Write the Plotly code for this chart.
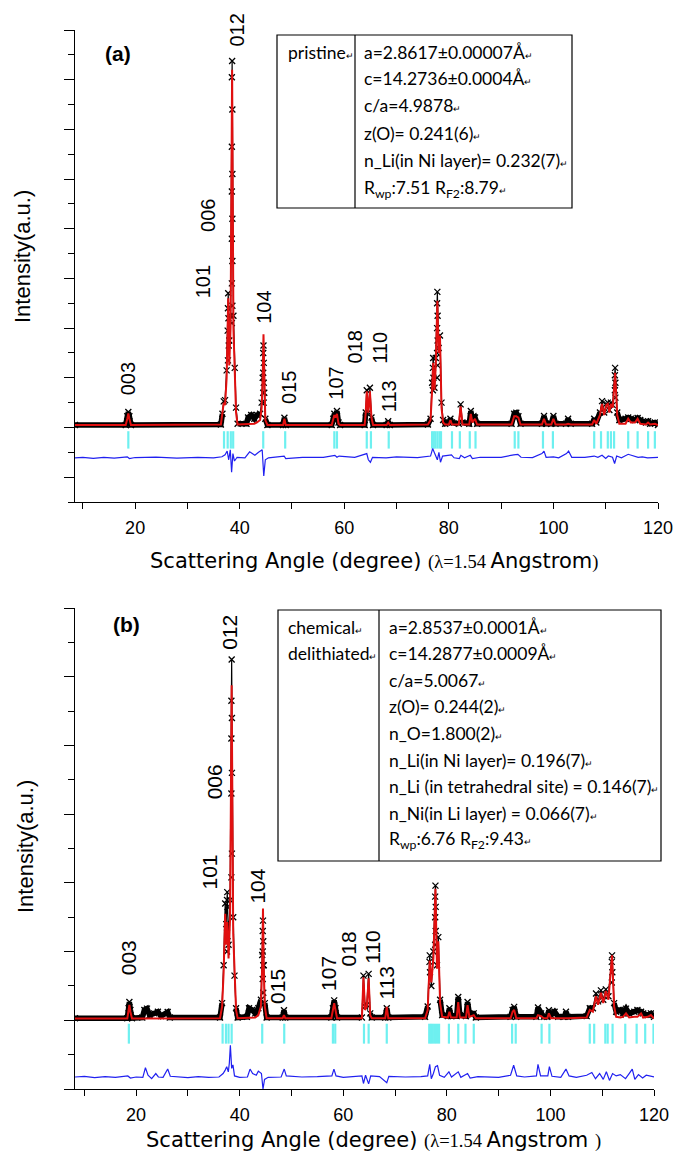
import plotly.graph_objects as go

W, H = 675, 1153          # reference picture size (all positions below are read in these pixels)
FIG_W = 690               # page width used by the figure so that it fills the photographed window

# ---------------- Panel (a) : pristine ----------------
a_x = [8.5, 18.2, 18.5, 18.7, 18.9, 19.2, 36.4, 36.7, 36.95, 37.2, 37.5, 37.8, 38.0, 38.25, 38.55, 38.8,
       39.05, 39.3, 39.6, 41.3, 41.6, 42.2, 42.8, 43.3, 43.9, 44.2, 44.4, 44.55, 44.7, 44.9, 45.3,
       48.3, 48.55, 48.8, 57.6, 57.9, 58.1, 58.3, 58.6, 58.9, 59.2, 63.9, 64.1, 64.3, 64.6, 64.9, 65.2,
       65.5, 68.1, 68.4, 68.7, 76.0, 76.5, 76.8, 77.0, 77.25, 77.5, 77.8, 78.05, 78.3, 78.6, 78.9, 79.3,
       80.0, 80.3, 80.6, 81.9, 82.25, 82.6, 83.9, 84.2, 84.5, 85.0, 85.4, 92.0, 92.5, 92.9, 93.3, 93.7,
       97.8, 98.2, 98.6, 99.6, 100.0, 100.4, 102.4, 102.8, 103.3, 107.4, 107.8, 108.2, 108.9, 109.3,
       109.7, 110.1, 110.4, 110.7, 111.0, 111.35, 111.8, 112.2, 112.6, 113.8, 114.3, 114.8, 115.6,
       116.1, 116.6, 117.7, 118.1, 118.5, 119.4, 120.0]
a_calc = [0.1, 0.1, 0.35, 0.56, 0.35, 0.1, 0.12, 0.5, 1.0, 0.9, 2.0, 5.2, 2.5, 4.0, 14.4, 4.0,
          2.2, 0.6, 0.12, 0.12, 0.15, 0.15, 0.15, 0.2, 0.3, 0.8, 2.0, 3.75, 1.5, 0.3, 0.1,
          0.1, 0.35, 0.1, 0.1, 0.3, 0.5, 0.4, 0.55, 0.15, 0.1, 0.1, 0.6, 1.46, 0.6, 1.46, 0.4,
          0.1, 0.1, 0.2, 0.1, 0.12, 0.3, 1.5, 2.6, 1.5, 2.5, 5.1, 3.0, 3.7, 0.8, 0.2, 0.12,
          0.12, 0.3, 0.12, 0.12, 0.85, 0.12, 0.12, 0.55, 0.2, 0.35, 0.12, 0.12, 0.45, 0.45, 0.4, 0.12,
          0.12, 0.35, 0.12, 0.12, 0.35, 0.12, 0.12, 0.15, 0.12, 0.12, 0.3, 0.15, 0.5, 0.95,
          0.5, 0.9, 0.95, 0.6, 0.95, 0.8, 2.2, 0.5, 0.15, 0.15, 0.35, 0.2, 0.2,
          0.35, 0.15, 0.12, 0.2, 0.12, 0.15, 0.1]
a_obs = [0.1, 0.1, 0.45, 0.62, 0.45, 0.1, 0.12, 0.55, 1.05, 1.1, 2.3, 5.4, 3.5, 4.5, 14.75, 4.5,
         2.4, 0.8, 0.15, 0.15, 0.4, 0.5, 0.35, 0.5, 0.55, 1.0, 2.0, 3.3, 1.4, 0.35, 0.1,
         0.1, 0.39, 0.1, 0.1, 0.35, 0.55, 0.45, 0.66, 0.2, 0.1, 0.1, 0.6, 1.5, 0.6, 1.6, 0.4,
         0.1, 0.1, 0.25, 0.1, 0.12, 0.35, 1.8, 2.8, 1.6, 2.8, 5.46, 3.2, 3.7, 1.0, 0.3, 0.15,
         0.2, 0.35, 0.2, 0.15, 0.93, 0.2, 0.15, 0.66, 0.3, 0.4, 0.15, 0.15, 0.55, 0.59, 0.45, 0.15,
         0.15, 0.46, 0.15, 0.15, 0.46, 0.15, 0.15, 0.35, 0.15, 0.15, 0.35, 0.2, 0.6, 1.06,
         0.6, 0.95, 1.0, 0.7, 1.0, 0.9, 2.4, 0.6, 0.3, 0.35, 0.4, 0.35, 0.3,
         0.38, 0.3, 0.2, 0.25, 0.15, 0.2, 0.1]
# extra observed points seen along the flanks of the strong peaks
a_pts_x = [38.5, 38.6, 38.5, 38.6, 38.5, 38.6, 38.5, 38.6, 38.5, 38.6, 38.5,
           37.75, 37.85, 37.7, 37.9, 37.75,
           44.5, 44.6, 44.5, 44.6, 44.5, 44.6,
           77.75, 77.85, 77.75, 77.85, 77.75, 77.85, 77.75, 76.95, 77.05, 76.95,
           111.75, 111.85, 111.75, 111.85]
a_pts_y = [14.1, 12.8, 11.3, 10.2, 9.5, 8.4, 7.6, 6.7, 5.8, 4.9, 4.2,
           4.8, 4.4, 3.9, 3.3, 2.7,
           3.0, 2.6, 2.2, 1.8, 1.4, 1.0,
           5.0, 4.5, 4.0, 3.5, 3.0, 2.5, 2.0, 2.4, 2.0, 1.5,
           2.1, 1.8, 1.5, 1.2]
a_bragg = [18.7, 37.0, 37.7, 38.3, 38.75, 44.5, 48.7, 58.1, 58.6, 64.3, 65.1, 68.5,
           76.8, 77.1, 77.4, 77.8, 78.2, 78.5, 80.6, 82.1, 84.0, 85.1, 92.6, 93.3, 98.0, 99.9,
           107.8, 109.1, 110.4, 111.0, 111.6, 114.3, 116.1, 118.1, 119.4]
a_diff_x = [8.5, 10, 12, 14, 16, 18.5, 18.9, 20, 24, 28, 32, 35, 36.6, 37.2, 37.6, 37.9, 38.2, 38.45,
            38.7, 39.0, 39.5, 41.0, 41.9, 42.4, 42.9, 43.6, 44.3, 44.6, 44.9, 45.5, 48.5, 48.8, 52, 56,
            57.5, 58.2, 58.6, 59, 62, 63.8, 64.3, 64.6, 65.0, 65.4, 68, 70, 74, 76.5, 76.9, 77.3, 77.8,
            78.1, 78.4, 78.8, 80.5, 81, 82.0, 82.3, 83, 84.1, 84.5, 86, 90, 92.4, 93.2, 93.8, 96, 97.8,
            98.2, 98.6, 100, 101, 102.5, 102.9, 103.5, 106, 107.8, 108.5, 109.3, 110, 110.5, 111.3,
            111.7, 112.1, 113, 114.3, 115, 116.2, 117, 118, 120]
a_diff_y = [-1.22, -1.2, -1.24, -1.2, -1.23, -1.18, -1.25, -1.21, -1.19, -1.23, -1.2, -1.22, -1.18,
            -1.1, -0.95, -1.3, -0.9, -1.8, -1.05, -1.35, -1.2, -1.22, -0.98, -1.05, -1.12, -1.0, -0.9,
            -1.95, -1.3, -1.22, -1.15, -1.25, -1.2, -1.2, -1.16, -1.12, -1.2, -1.15, -1.2, -1.1, -1.05,
            -1.3, -1.4, -1.2, -1.22, -1.18, -1.21, -1.15, -0.85, -1.05, -1.3, -1.0, -1.4, -1.15, -1.1,
            -1.22, -1.25, -1.12, -1.22, -1.12, -1.25, -1.2, -1.2, -1.1, -1.08, -1.2, -1.21, -1.05,
            -0.95, -1.2, -1.18, -1.22, -1.05, -0.95, -1.2, -1.2, -1.15, -1.2, -1.12, -1.25, -1.15,
            -1.2, -1.45, -1.15, -1.22, -1.08, -1.12, -1.2, -1.18, -1.22, -1.2]

# ---------------- Panel (b) : chemically delithiated ----------------
b_x = [8.2, 18.3, 18.55, 18.7, 18.9, 19.2, 21.2, 21.6, 22.1, 22.6, 23.5, 24.2, 24.8, 26.1, 26.5,
       36.2, 36.6, 36.9, 37.2, 37.4, 37.6, 37.85, 38.15, 38.45, 38.75, 39.0, 39.3, 39.6, 41.4, 41.8,
       42.4, 43.0, 43.6, 44.1, 44.35, 44.5, 44.65, 44.85, 45.2, 48.3, 48.55, 48.8, 57.7, 58.0, 58.25,
       58.5, 58.8, 63.6, 63.9, 64.2, 64.55, 64.9, 65.2, 65.5, 68.1, 68.4, 68.7, 75.8, 76.3, 76.7,
       77.0, 77.4, 77.8, 78.1, 78.35, 78.7, 79.1, 80.2, 80.5, 80.8, 81.9, 82.2, 82.5, 83.7, 84.0,
       84.35, 85.2, 85.6, 92.3, 92.7, 93.0, 93.4, 97.3, 97.6, 98.2, 98.7, 99.4, 99.7, 100.1, 100.8,
       101.5, 102.7, 103.0, 103.4, 107.0, 107.6, 108.2, 108.8, 109.2, 109.75, 110.2, 110.7, 111.2,
       111.9, 112.3, 112.7, 113.5, 114.0, 114.6, 115.2, 116.2, 116.8, 117.5, 117.9, 118.8, 119.4, 120.0]
b_calc = [0.05, 0.05, 0.3, 0.45, 0.25, 0.05, 0.05, 0.05, 0.05, 0.05, 0.05, 0.05, 0.05, 0.05, 0.05,
          0.06, 0.4, 1.4, 3.1, 2.2, 2.86, 1.8, 3.0, 9.75, 2.5, 1.2, 0.3, 0.06, 0.06, 0.06,
          0.06, 0.08, 0.15, 0.4, 1.6, 3.25, 1.5, 0.4, 0.06, 0.06, 0.15, 0.06, 0.06, 0.3, 0.5,
          0.3, 0.06, 0.06, 1.25, 0.3, 0.4, 1.22, 0.15, 0.06, 0.06, 0.39, 0.06, 0.06, 0.3, 1.74,
          1.1, 1.8, 3.83, 1.5, 2.3, 0.5, 0.1, 0.08, 0.25, 0.08, 0.08, 0.53, 0.08, 0.08, 0.44,
          0.1, 0.15, 0.06, 0.06, 0.25, 0.3, 0.06, 0.06, 0.15, 0.12, 0.06, 0.06, 0.2, 0.06, 0.06,
          0.06, 0.06, 0.05, 0.06, 0.08, 0.3, 0.25, 0.7, 0.45, 0.8, 0.5, 0.85, 0.6,
          1.89, 0.4, 0.1, 0.08, 0.1, 0.2, 0.08, 0.1, 0.1, 0.2, 0.08, 0.1, 0.15, 0.05]
b_obs = [0.06, 0.06, 0.35, 0.53, 0.3, 0.06, 0.08, 0.3, 0.34, 0.15, 0.2, 0.25, 0.12, 0.24, 0.08,
         0.08, 0.5, 1.6, 3.4, 2.8, 3.73, 2.2, 3.5, 10.5, 3.0, 1.3, 0.35, 0.08, 0.1, 0.35,
         0.3, 0.2, 0.35, 0.6, 1.9, 2.9, 1.6, 0.5, 0.08, 0.08, 0.29, 0.08, 0.08, 0.35, 0.58,
         0.35, 0.08, 0.08, 1.3, 0.4, 0.45, 1.35, 0.2, 0.08, 0.08, 0.35, 0.08, 0.1, 0.4, 1.89,
         1.0, 2.0, 3.92, 1.6, 2.42, 0.6, 0.15, 0.12, 0.35, 0.12, 0.12, 0.68, 0.15, 0.12, 0.53,
         0.2, 0.2, 0.08, 0.1, 0.3, 0.39, 0.1, 0.1, 0.37, 0.2, 0.1, 0.1, 0.29, 0.15, 0.25,
         0.1, 0.1, 0.25, 0.1, 0.12, 0.35, 0.35, 0.78, 0.55, 0.87, 0.6, 0.9, 0.7,
         1.89, 0.5, 0.25, 0.3, 0.2, 0.34, 0.2, 0.25, 0.3, 0.25, 0.2, 0.15, 0.2, 0.1]
b_pts_x = [38.4, 38.5, 38.4, 38.5, 38.4, 38.5, 38.4,
           37.55, 37.65, 37.55, 37.65, 37.55,
           44.45, 44.55, 44.45, 44.55, 44.45, 44.55,
           77.75, 77.85, 77.75, 77.85, 77.75, 76.65, 76.75,
           111.85, 111.95, 111.85]
b_pts_y = [9.3, 8.8, 8.2, 7.2, 6.6, 4.85, 4.16,
           3.5, 3.3, 2.7, 2.3, 2.0,
           2.6, 2.3, 2.0, 1.6, 1.2, 0.8,
           3.6, 3.3, 3.0, 2.6, 2.2, 1.7, 1.4,
           1.7, 1.4, 1.1]
b_bragg = [18.6, 36.7, 37.35, 37.85, 38.45, 44.35, 48.6, 58.0, 58.45, 64.0, 64.9, 68.4,
           76.6, 76.95, 77.3, 77.7, 78.1, 78.5, 80.4, 82.2, 83.6, 85.2, 92.6, 93.3, 98.3, 99.8,
           107.6, 108.45, 110.6, 111.05, 112.0, 114.45, 116.65, 118.3, 119.9]
b_diff_x = [8.2, 10, 12, 14, 16, 18.4, 18.9, 20, 21.3, 21.8, 22.3, 23.0, 23.8, 24.3, 25.2, 26.1, 26.6,
            28, 30, 32, 34, 36, 36.8, 37.2, 37.5, 37.8, 38.0, 38.2, 38.45, 38.7, 39.0, 40.0, 41.5,
            42.0, 42.5, 43.2, 43.6, 44.2, 44.5, 44.8, 45.5, 48.0, 48.6, 49.0, 52, 55, 57.8, 58.2,
            58.6, 60, 62, 63.6, 63.9, 64.3, 64.9, 65.3, 67, 68.4, 68.8, 72, 75, 76.3, 76.7, 77.0,
            77.4, 77.8, 78.2, 78.6, 79.5, 80.4, 80.9, 82.2, 82.7, 84.0, 84.5, 86, 90, 92.3, 92.9,
            93.5, 95, 97.3, 97.6, 98.1, 99.5, 99.8, 100.3, 102.0, 103.0, 103.6, 105, 107, 108.0,
            108.7, 109.5, 110.2, 110.8, 111.4, 112.0, 112.7, 113.5, 114.5, 115.2, 115.8, 116.3,
            117.0, 117.8, 118.5, 120]
b_diff_y = [-1.65, -1.63, -1.67, -1.64, -1.66, -1.62, -1.68, -1.65, -1.66, -1.38, -1.6, -1.7, -1.55,
            -1.65, -1.66, -1.42, -1.63, -1.65, -1.67, -1.64, -1.66, -1.65, -1.55, -1.45, -1.35, -1.5,
            -1.25, -0.73, -1.4, -1.3, -1.62, -1.66, -1.65, -1.42, -1.55, -1.6, -1.48, -1.55, -2.0,
            -1.72, -1.66, -1.65, -1.42, -1.62, -1.65, -1.64, -1.62, -1.42, -1.62, -1.66, -1.63, -1.62,
            -1.84, -1.6, -1.85, -1.62, -1.64, -1.82, -1.63, -1.65, -1.64, -1.62, -1.28, -1.7, -1.55,
            -1.35, -1.32, -1.6, -1.66, -1.5, -1.65, -1.5, -1.66, -1.55, -1.68, -1.64, -1.66, -1.6,
            -1.31, -1.62, -1.65, -1.62, -1.28, -1.62, -1.62, -1.35, -1.63, -1.66, -1.42, -1.62, -1.66,
            -1.6, -1.52, -1.7, -1.55, -1.72, -1.5, -1.75, -1.55, -1.62, -1.58, -1.7, -1.55, -1.42,
            -1.72, -1.58, -1.68, -1.6, -1.65]

hkl = ["003", "101", "006", "012", "104", "015", "107", "018", "110", "113"]
a_lab_x = [18.7, 33.0, 33.9, 39.4, 44.6, 49.3, 58.4, 62.0, 66.8, 68.7]
a_lab_y = [1.95, 5.85, 8.55, 16.0, 4.85, 1.6, 1.8, 3.25, 3.2, 1.25]
b_lab_x = [18.6, 34.2, 35.2, 37.9, 43.4, 47.4, 57.0, 61.1, 65.6, 68.3]
b_lab_y = [1.83, 4.32, 6.95, 11.3, 3.9, 0.97, 1.37, 2.09, 2.12, 1.08]

table_a_left = ["pristine"]
table_a_right = ["a=2.8617±0.00007Å", "c=14.2736±0.0004Å", "c/a=4.9878", "z(O)= 0.241(6)",
                 "n_Li(in Ni layer)= 0.232(7)", "R<sub>wp</sub>:7.51 R<sub>F2</sub>:8.79"]
table_b_left = ["chemical", "delithiated"]
table_b_right = ["a=2.8537±0.0001Å", "c=14.2877±0.0009Å", "c/a=5.0067", "z(O)= 0.244(2)",
                 "n_O=1.800(2)", "n_Li(in Ni layer)= 0.196(7)", "n_Li (in tetrahedral site) = 0.146(7)",
                 "n_Ni(in Li layer) = 0.066(7)", "R<sub>wp</sub>:6.76 R<sub>F2</sub>:9.43"]

RED = "#E01010"
BLUE = "#2020F0"
CYAN = "#6EF0F0"
ARIAL = "Liberation Sans, Arial, sans-serif"
WIDE = "DejaVu Sans, sans-serif"
BAND_MAX = 0.7


def px(x):
    return x / W


def py(y):
    return 1 - y / H


fig = go.Figure()


def add_panel(xs, calc, obs, px_, py_, bragg, dx, dy, xa, ya, tick_lo, tick_hi):
    bx, by = [], []
    for p in bragg:
        bx += [p, p, None]
        by += [tick_lo, tick_hi, None]
    common = dict(xaxis=xa, yaxis=ya, hoverinfo="skip")
    fig.add_trace(go.Scatter(x=bx, y=by, mode="lines", line=dict(color=CYAN, width=2.2), **common))
    fig.add_trace(go.Scatter(x=dx, y=dy, mode="lines", line=dict(color=BLUE, width=1.2), **common))
    band = [v if v <= BAND_MAX else None for v in obs]
    fig.add_trace(go.Scatter(x=xs, y=band, mode="lines", connectgaps=False,
                             line=dict(color="black", width=5.5), **common))
    fig.add_trace(go.Scatter(x=xs, y=obs, mode="lines", line=dict(color="black", width=1.2), **common))
    mk = dict(symbol="x-thin", size=6, line=dict(color="black", width=1.3))
    fig.add_trace(go.Scatter(x=xs, y=obs, mode="markers", marker=mk, **common))
    fig.add_trace(go.Scatter(x=px_, y=py_, mode="markers", marker=mk, **common))
    fig.add_trace(go.Scatter(x=xs, y=calc, mode="lines", line=dict(color=RED, width=2), **common))


add_panel(a_x, a_calc, a_obs, a_pts_x, a_pts_y, a_bragg, a_diff_x, a_diff_y, "x", "y", -0.15, -0.85)
add_panel(b_x, b_calc, b_obs, b_pts_x, b_pts_y, b_bragg, b_diff_x, b_diff_y, "x2", "y2", -0.1, -0.68)

xax = dict(showline=True, linecolor="black", linewidth=1.3, showgrid=False, zeroline=False,
           ticks="outside", ticklen=6, tickwidth=1.3, tickcolor="black", dtick=20, tick0=0,
           minor=dict(dtick=10, ticks="outside", ticklen=6, tickwidth=1.3, tickcolor="black", showgrid=False),
           tickfont=dict(family=ARIAL, size=18, color="black"), ticklabelstandoff=3)
yax = dict(showline=True, linecolor="black", linewidth=1.3, showgrid=False, zeroline=False,
           ticks="outside", ticklen=10, tickwidth=1.3, tickcolor="black", dtick=2, tick0=0,
           minor=dict(dtick=1, ticks="outside", ticklen=6, tickwidth=1.3, tickcolor="black", showgrid=False),
           showticklabels=False)

fig.update_layout(
    width=FIG_W, height=H, autosize=False, margin=dict(l=0, r=0, t=0, b=0),
    paper_bgcolor="white", plot_bgcolor="white", showlegend=False,
    xaxis=dict(xax, domain=[px(75), px(658)], range=[8.5, 120], anchor="y"),
    yaxis=dict(yax, domain=[py(502), py(30)], range=[-3, 16], anchor="x"),
    xaxis2=dict(xax, domain=[px(75), px(654)], range=[8.2, 120], anchor="y2"),
    yaxis2=dict(yax, domain=[py(1089), py(608)], range=[-2, 12], anchor="x2"),
)

ann = []
C = dict(xanchor="center", yanchor="middle", showarrow=False)
for t, lx, ly in zip(hkl, a_lab_x, a_lab_y):
    ann.append(dict(x=lx, y=ly, xref="x", yref="y", text=t, textangle=-90,
                    font=dict(family=ARIAL, size=20, color="black"), **C))
for t, lx, ly in zip(hkl, b_lab_x, b_lab_y):
    ann.append(dict(x=lx, y=ly, xref="x2", yref="y2", text=t, textangle=-90,
                    font=dict(family=ARIAL, size=21, color="black"), **C))

ann.append(dict(x=px(118), y=py(53), xref="paper", yref="paper", text="<b>(a)</b>",
                font=dict(family=ARIAL, size=21, color="black"), **C))
ann.append(dict(x=px(126), y=py(624), xref="paper", yref="paper", text="<b>(b)</b>",
                font=dict(family=ARIAL, size=21, color="black"), **C))
for xx, yy in ((22, 257), (25, 847)):
    ann.append(dict(x=px(xx), y=py(yy), xref="paper", yref="paper", text="Intensity(a.u.)", textangle=-90,
                    font=dict(family=ARIAL, size=22, color="black"), **C))

serif = "font-family:Liberation Serif;font-size:18.5px"
xt_a = ("Scattering Angle (degree) <span style='%s'>(λ=1.54 </span>Angstrom<span style='%s'>)</span>"
        % (serif, serif))
xt_b = ("Scattering Angle (degree) <span style='%s'>(λ=1.54 </span>Angstrom <span style='%s'>)</span>"
        % (serif, serif))
ann.append(dict(x=px(374), y=py(561), xref="paper", yref="paper", text=xt_a,
                font=dict(family=WIDE, size=21, color="black"), **C))
ann.append(dict(x=px(373), y=py(1140), xref="paper", yref="paper", text=xt_b,
                font=dict(family=WIDE, size=21, color="black"), **C))

RET = "<span style='font-size:9px'>↵</span>"
TF = dict(family="Lato, sans-serif", size=17.5, color="black")
shapes = []


def add_table(x0, x1, xd, y0, y1, left, right, rows_y, left_x, right_x):
    shapes.append(dict(type="rect", xref="paper", yref="paper", x0=px(x0), x1=px(x1), y0=py(y1), y1=py(y0),
                       line=dict(color="black", width=1.2), fillcolor="white", layer="above"))
    shapes.append(dict(type="line", xref="paper", yref="paper", x0=px(xd), x1=px(xd), y0=py(y1), y1=py(y0),
                       line=dict(color="black", width=1.2), layer="above"))
    for i, t in enumerate(left):
        ann.append(dict(x=px(left_x), y=py(rows_y[i]), xref="paper", yref="paper", text=t + RET,
                        xanchor="left", yanchor="middle", showarrow=False, font=TF))
    for i, t in enumerate(right):
        ann.append(dict(x=px(right_x), y=py(rows_y[i]), xref="paper", yref="paper", text=t + RET,
                        xanchor="left", yanchor="middle", showarrow=False, font=TF))


rows_a = [52, 79, 106, 133, 160, 189]
rows_b = [627, 653, 680, 706, 733, 760, 786, 813, 840]
add_table(277, 572, 355, 35, 208, table_a_left, table_a_right, rows_a, 286, 362)
add_table(278, 661, 379, 610, 861, table_b_left, table_b_right, rows_b, 286, 387)

fig.update_layout(annotations=ann, shapes=shapes)
fig.write_html(
    "out.html",
    config={"displayModeBar": False, "responsive": False},
    post_script=("document.body.style.margin='0px';document.body.style.overflow='hidden';"
                 "Plotly.relayout(document.getElementById('{plot_id}'), {width: %d, height: %d});"
                 % (FIG_W, H)),
)
